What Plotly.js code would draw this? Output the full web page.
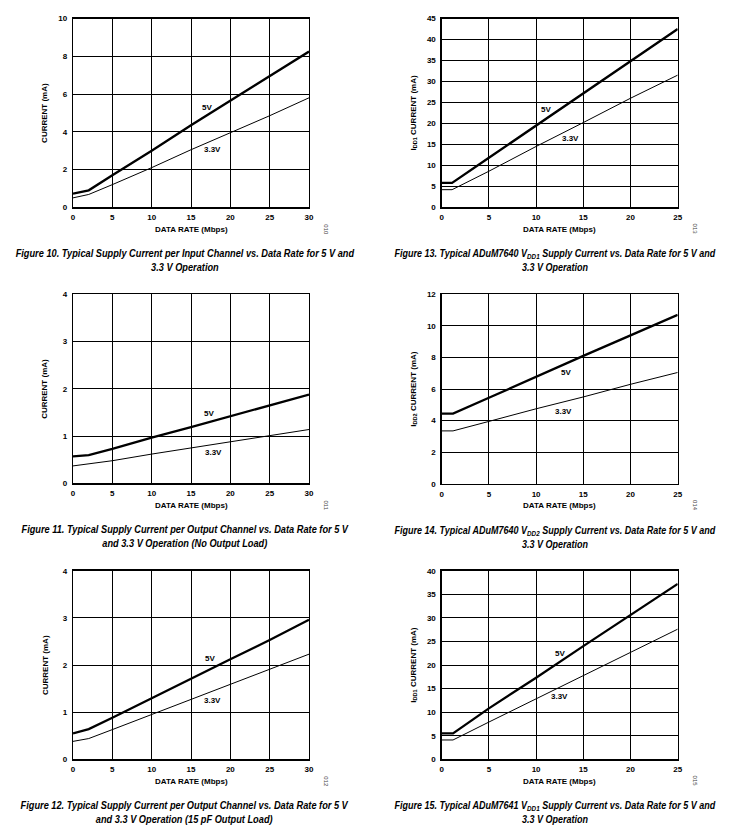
<!DOCTYPE html>
<html><head><meta charset="utf-8">
<script src="https://cdn.plot.ly/plotly-3.0.1.min.js"></script>
<style>html,body{margin:0;padding:0;background:#fff}</style>
</head><body><div id="chart" style="width:742px;height:838px"></div>
<script>
// Figure 10
const f10_x5 = [0, 2, 5, 10, 15, 20, 25, 30];
const f10_y5 = [0.72, 0.9, 1.7, 3.0, 4.35, 5.65, 6.95, 8.25];
const f10_x33 = [0, 2, 5, 10, 15, 20, 25, 30];
const f10_y33 = [0.5, 0.68, 1.2, 2.1, 3.05, 3.95, 4.85, 5.8];
// Figure 11
const f11_x5 = [0, 2, 5, 10, 15, 20, 25, 30];
const f11_y5 = [0.57, 0.6, 0.73, 0.97, 1.19, 1.42, 1.65, 1.88];
const f11_x33 = [0, 2, 5, 10, 15, 20, 25, 30];
const f11_y33 = [0.37, 0.41, 0.48, 0.62, 0.75, 0.88, 1.0, 1.14];
// Figure 12
const f12_x5 = [0, 2, 5, 10, 15, 20, 25, 30];
const f12_y5 = [0.55, 0.64, 0.88, 1.3, 1.71, 2.12, 2.53, 2.96];
const f12_x33 = [0, 2, 5, 10, 15, 20, 25, 30];
const f12_y33 = [0.38, 0.44, 0.63, 0.95, 1.27, 1.59, 1.91, 2.23];
// Figure 13
const f13_x5 = [0, 1.1, 5, 10, 15, 20, 25];
const f13_y5 = [5.8, 5.8, 11.8, 19.5, 27.2, 34.8, 42.5];
const f13_x33 = [0, 1.1, 5, 10, 15, 20, 25];
const f13_y33 = [4.2, 4.2, 8.6, 14.5, 20.2, 26.0, 31.5];
// Figure 14
const f14_x5 = [0, 1.2, 5, 10, 15, 20, 25];
const f14_y5 = [4.45, 4.45, 5.45, 6.8, 8.1, 9.4, 10.7];
const f14_x33 = [0, 1.2, 5, 10, 15, 20, 25];
const f14_y33 = [3.35, 3.35, 3.95, 4.75, 5.5, 6.3, 7.05];
// Figure 15
const f15_x5 = [0, 1.2, 5, 10, 15, 20, 25];
const f15_y5 = [5.5, 5.5, 10.8, 17.3, 24.0, 30.6, 37.2];
const f15_x33 = [0, 1.2, 5, 10, 15, 20, 25];
const f15_y33 = [4.1, 4.1, 7.9, 12.8, 17.8, 22.7, 27.6];

const seriesLabels = ["5V", "3.3V"];
const xTitle = "DATA RATE (Mbps)";
const yTitles = ["CURRENT (mA)", "CURRENT (mA)", "CURRENT (mA)",
  "I<sub>DD1</sub> CURRENT (mA)", "I<sub>DD2</sub> CURRENT (mA)", "I<sub>DD1</sub> CURRENT (mA)"];
const captions = [
  "Figure 10. Typical Supply Current per Input Channel vs. Data Rate for 5 V and<br>3.3 V Operation",
  "Figure 11. Typical Supply Current per Output Channel vs. Data Rate for 5 V<br>and 3.3 V Operation (No Output Load)",
  "Figure 12. Typical Supply Current per Output Channel vs. Data Rate for 5 V<br>and 3.3 V Operation (15 pF Output Load)",
  "Figure 13. Typical ADuM7640 V<sub>DD1</sub> Supply Current vs. Data Rate for 5 V and<br>3.3 V Operation",
  "Figure 14. Typical ADuM7640 V<sub>DD2</sub> Supply Current vs. Data Rate for 5 V and<br>3.3 V Operation",
  "Figure 15. Typical ADuM7641 V<sub>DD1</sub> Supply Current vs. Data Rate for 5 V and<br>3.3 V Operation"];
const ids = ["010", "011", "012", "013", "014", "015"];
const xMax = [30, 30, 30, 25, 25, 25];
const yMax = [10, 4, 4, 45, 12, 40];
const yStep = [2, 1, 1, 5, 2, 5];
const labelPos5 = [[17, 5.3], [17.3, 1.48], [17.4, 2.13], [11.1, 23.4], [13.2, 7.07], [12.5, 22.5]];
const labelPos33 = [[17.7, 3.07], [17.8, 0.65], [17.7, 1.24], [13.6, 16.4], [12.9, 4.57], [12.5, 13.3]];

const data5 = [[f10_x5, f10_y5], [f11_x5, f11_y5], [f12_x5, f12_y5], [f13_x5, f13_y5], [f14_x5, f14_y5], [f15_x5, f15_y5]];
const data33 = [[f10_x33, f10_y33], [f11_x33, f11_y33], [f12_x33, f12_y33], [f13_x33, f13_y33], [f14_x33, f14_y33], [f15_x33, f15_y33]];

const W = 742, H = 838;
const FONT = "Liberation Sans, Arial, sans-serif";
// panel pixel boxes: [left, right, top, bottom]
const boxes = [
  [73, 309, 18.5, 207.3], [73, 309, 294.3, 483.4], [73, 309, 570.7, 759.3],
  [441.7, 677.7, 18.5, 207.3], [441.7, 677.7, 294.3, 483.8], [441.7, 677.7, 570.7, 759.3]];

const traces = [];
const layout = {
  width: W, height: H, margin: {l: 0, r: 0, t: 0, b: 0},
  paper_bgcolor: "#fff", plot_bgcolor: "#fff", showlegend: false,
  font: {family: FONT, color: "#000"}, annotations: []
};
const px = x => x / W, py = y => 1 - y / H;
const captionIdx = [];

function ann(o) {
  layout.annotations.push(Object.assign({xref: "paper", yref: "paper", showarrow: false,
    xanchor: "center", yanchor: "middle"}, o));
  return layout.annotations.length - 1;
}

for (let i = 0; i < 6; i++) {
  const n = i + 1;
  const xa = n === 1 ? "x" : "x" + n, ya = n === 1 ? "y" : "y" + n;
  const xk = n === 1 ? "xaxis" : "xaxis" + n, yk = n === 1 ? "yaxis" : "yaxis" + n;
  const b = boxes[i];
  traces.push({x: data5[i][0], y: data5[i][1], xaxis: xa, yaxis: ya, mode: "lines",
    line: {color: "#000", width: 2.3}, name: seriesLabels[0]});
  traces.push({x: data33[i][0], y: data33[i][1], xaxis: xa, yaxis: ya, mode: "lines",
    line: {color: "#000", width: 1}, name: seriesLabels[1]});
  const common = {showline: true, mirror: true, linecolor: "#000", linewidth: 1.3,
    showgrid: true, gridcolor: "#000", gridwidth: 1, zeroline: false, ticks: "",
    tickfont: {family: FONT, size: 8, color: "#000", weight: "bold"}, fixedrange: true};
  layout[xk] = Object.assign({}, common, {domain: [px(b[0]), px(b[1])], range: [0, xMax[i]],
    dtick: 5, tick0: 0, anchor: ya, ticklabelstandoff: 2});
  layout[yk] = Object.assign({}, common, {domain: [py(b[3]), py(b[2])], range: [0, yMax[i]],
    dtick: yStep[i], tick0: 0, anchor: xa, ticklabelstandoff: 3});
  const cx = (b[0] + b[1]) / 2;
  ann({xref: xa, yref: ya, x: labelPos5[i][0], y: labelPos5[i][1], text: "<b>" + seriesLabels[0] + "</b>",
    font: {size: 8, family: FONT}});
  ann({xref: xa, yref: ya, x: labelPos33[i][0], y: labelPos33[i][1], text: "<b>" + seriesLabels[1] + "</b>",
    font: {size: 8, family: FONT}});
  ann({x: px(cx), y: py(b[3] + 22), text: "<b>" + xTitle + "</b>", font: {size: 8, family: FONT}});
  ann({x: px(b[0] - 28), y: py((b[2] + b[3]) / 2), text: "<b>" + yTitles[i] + "</b>",
    textangle: -90, font: {size: 8, family: FONT}});
  ann({x: px(b[1] + 17), y: py(b[3] + 22), text: ids[i], textangle: 90,
    font: {size: 6, family: FONT, color: "#444"}});
  captionIdx.push(ann({x: px(i < 3 ? 185 : 555), y: py(b[3] + 53), text: "<b><i>" + captions[i] + "</i></b>",
    align: "center", font: {size: 11, family: FONT}}));
}
Plotly.newPlot("chart", traces, layout, {displayModeBar: false, staticPlot: true}).then(() => {
  document.querySelectorAll("g.annotation").forEach(g => {
    const idx = +g.getAttribute("data-index");
    const k = captionIdx.indexOf(idx);
    if (k >= 0) {
      const t = g.querySelector("text");
      if (t) {
        t.style.transformBox = "fill-box";
        t.style.transformOrigin = "center";
        t.style.transform = k < 3 ? "scaleX(0.84)" : "scaleX(0.82)";
      }
    }
  });
});
</script></body></html>
